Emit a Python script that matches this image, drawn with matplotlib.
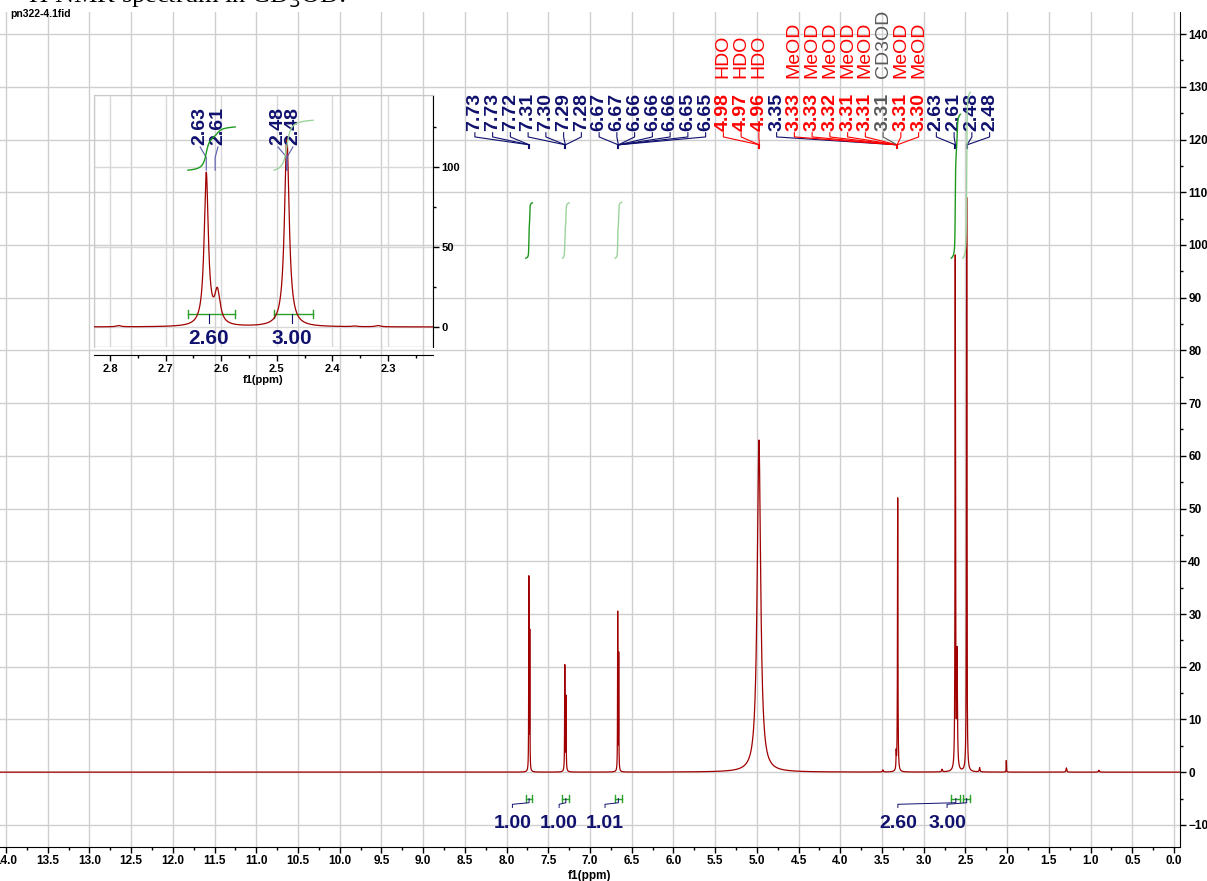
import numpy as np
import matplotlib
matplotlib.use("Agg")
import matplotlib.pyplot as plt
from matplotlib.ticker import MultipleLocator
from matplotlib.patches import Rectangle

W, H, DPI = 1207, 881, 100
SANS = "Liberation Sans"
NAVY = "#10106e"
RED = "#ff0000"
GREY = "#5a5a5a"
LINE = "#a00000"

# peaks (ppm, height, width)
peak_ppm    = [7.733, 7.722, 7.302, 7.288, 6.668, 6.656, 4.975, 3.490, 3.330,
               3.312, 2.622, 2.600, 2.485, 2.780, 2.330, 2.010, 1.290, 0.900]
peak_height = [36.5, 26.0, 20.0, 14.0, 30.0, 22.0, 63.0, 0.4, 3.0,
               52.0, 97.0, 22.0, 109.0, 0.5, 0.8, 2.2, 0.8, 0.35]
peak_width  = [0.004, 0.004, 0.005, 0.005, 0.004, 0.004, 0.050, 0.010, 0.005,
               0.006, 0.006, 0.010, 0.006, 0.010, 0.010, 0.004, 0.010, 0.012]

# peaks
inset_ppm    = [2.785, 2.627, 2.607, 2.482, 2.360, 2.318]
inset_height = [0.8, 95.0, 20.0, 119.0, 0.4, 0.8]
inset_width  = [0.010, 0.009, 0.012, 0.010, 0.010, 0.010]

# peak picking labels on top
label_text = ["7.73", "7.73", "7.72", "7.31", "7.30", "7.29", "7.28",
              "6.67", "6.67", "6.66", "6.66", "6.66", "6.65", "6.65",
              "4.98", "4.97", "4.96", "3.35", "3.33", "3.33", "3.32", "3.31",
              "3.31", "3.31", "3.31", "3.30", "2.63", "2.61", "2.48", "2.48"]
label_kind = ["c"] * 14 + ["s"] * 3 + ["c"] + ["s"] * 5 + ["r"] + ["s"] * 2 + ["c"] * 4
label_group = [0] * 3 + [1] * 4 + [2] * 7 + [3] * 3 + [4] * 9 + [5] * 2 + [6] * 2
group_kind = ["c", "c", "c", "s", "s", "c", "c"]
solvent_name = {14: "HDO", 15: "HDO", 16: "HDO", 18: "MeOD", 19: "MeOD", 20: "MeOD",
                21: "MeOD", 22: "MeOD", 23: "CD3OD", 24: "MeOD", 25: "MeOD"}

# integrals
int_lo = [7.69, 7.25, 6.62, 2.56, 2.44]
int_hi = [7.77, 7.33, 6.70, 2.67, 2.53]
int_value = ["1.00", "1.00", "1.01", "2.60", "3.00"]
int_label_ppm = [7.93, 7.37, 6.82, 3.31, 2.72]

inset_labels = ["2.63", "2.61", "2.48", "2.48"]
inset_label_ppm = [2.638, 2.606, 2.498, 2.471]
inset_junction = [2.627, 2.611, 2.482, 2.482]
inset_int_lo = [2.575, 2.435]
inset_int_hi = [2.660, 2.505]
inset_int_value = ["2.60", "3.00"]
inset_int_label_ppm = [2.622, 2.473]

KCOL = {"c": NAVY, "s": RED, "r": GREY}


def spectrum(x, ppm, hgt, wid):
    y = np.zeros_like(x)
    for p, h, w in zip(ppm, hgt, wid):
        y += h / (1 + ((x - p) / (w / 2)) ** 2)
    return y


def integral(x, y, lo, hi):
    m = (x >= lo) & (x <= hi)
    c = np.cumsum(y[m])
    return x[m], c / c[-1]


fig = plt.figure(figsize=(W / DPI, H / DPI), dpi=DPI)

# ---------------- main axes ----------------
ax = fig.add_axes([0, 1 - 847 / H, 1180 / W, (847 - 12) / H])
ax.set_facecolor("none")
x = np.linspace(14.1, -0.1, 60000)
y = spectrum(x, peak_ppm, peak_height, peak_width)
ax.plot(x, y, color=LINE, lw=0.9, zorder=3)
ax.set_xlim(14.072, -0.072)
ax.set_ylim(-14.2, 144.2)

ax.xaxis.set_major_locator(MultipleLocator(0.5))
ax.xaxis.set_minor_locator(MultipleLocator(0.25))
ax.yaxis.set_major_locator(MultipleLocator(10))
ax.yaxis.set_minor_locator(MultipleLocator(5))
ax.yaxis.tick_right()
ax.grid(True, which="major", color="#cfcfcf", lw=1.0)
for s in ("top", "left"):
    ax.spines[s].set_visible(False)
ax.tick_params(axis="both", which="major", length=4, width=1, labelsize=8.5, pad=2)
ax.tick_params(axis="both", which="minor", length=2.5, width=1)
for t in ax.get_xticklabels() + ax.get_yticklabels():
    t.set_fontweight("bold")
    t.set_family(SANS)
fig.text(590 / W, 1 - 876 / H, "f1(ppm)", ha="center", va="center",
         fontsize=8.5, weight="bold", family=SANS)

# peak labels with connectors
label_x = np.linspace(8.38, 2.21, len(label_text))
junction = {}
for g in set(label_group):
    vals = [float(t) for t, gg in zip(label_text, label_group) if gg == g]
    junction[g] = np.mean(vals)
for i, (txt, kind, g) in enumerate(zip(label_text, label_kind, label_group)):
    c = KCOL[kind]
    ax.text(label_x[i], 121.6, txt, rotation=90, ha="center", va="bottom",
            color=c, fontsize=14, weight="bold", family=SANS)
    ax.plot([label_x[i], label_x[i], junction[g]], [121.3, 120.5, 119.0],
            color=c, lw=0.8, zorder=4)
    if i in solvent_name:
        ax.text(label_x[i], 131.7, solvent_name[i], rotation=90, ha="center",
                va="bottom", color=KCOL[kind], fontsize=14, family=SANS)
for g, k in enumerate(group_kind):
    ax.plot([junction[g]] * 2, [119.0, 118.4], color=KCOL[k], lw=1.5, zorder=4)

# integrals
for k, (lo, hi, val, lx) in enumerate(zip(int_lo, int_hi, int_value, int_label_ppm)):
    xi, ci = integral(x, y, lo, hi)
    col = "#1f9a1f" if k in (0, 3) else "#9cd39c"
    ax.plot(xi, 97.5 + ci * float(val) * 10.5, color=col, lw=1.0, zorder=4)
    ax.plot([hi, lo], [-5, -5], color="#2aa02a", lw=1.0)
    ax.plot([hi, hi], [-5.6, -4.4], color="#2aa02a", lw=1.0)
    ax.plot([lo, lo], [-5.6, -4.4], color="#2aa02a", lw=1.0)
    mid = (lo + hi) / 2
    ax.plot([mid, mid, lx, lx], [-5.0, -5.8, -6.1, -6.7], color=NAVY, lw=0.7)
    ax.text(lx, -9.7, val, ha="center", va="center", color=NAVY,
            fontsize=14, weight="bold", family=SANS)

# header texts
fig.text(10 / W, 1 - 14 / H, "pn322-4.1fid", ha="left", va="center",
         fontsize=7.5, weight="bold", family=SANS)
fig.text(16 / W, 1 - 3 / H, "$^{1}$H NMR spectrum in CD$_3$OD:", ha="left",
         va="baseline", fontsize=19, family="Liberation Serif")

# ---------------- inset ----------------
ix0, ix1, iy0, iy1 = 94, 433, 95, 347
ins = fig.add_axes([ix0 / W, 1 - iy1 / H, (ix1 - ix0) / W, (iy1 - iy0) / H])
ins.set_facecolor("none")
xi_ = np.linspace(2.85, 2.2, 8000)
yi_ = spectrum(xi_, inset_ppm, inset_height, inset_width)
ins.plot(xi_, yi_, color=LINE, lw=0.9, zorder=3)
ins.set_xlim(2.829, 2.219)
ins.set_ylim(-12.5, 145)
ins.xaxis.set_major_locator(MultipleLocator(0.1))
ins.xaxis.set_minor_locator(MultipleLocator(0.05))
ins.yaxis.set_major_locator(MultipleLocator(50))
ins.yaxis.set_minor_locator(MultipleLocator(25))
ins.yaxis.tick_right()
ins.grid(True, which="major", color="#d8d8d8", lw=1.0)
for s in ("top", "left"):
    ins.spines[s].set_color("#c8c8c8")
ins.spines["bottom"].set_position(("outward", 6))
ins.add_patch(Rectangle((0, 0), 1, 1, transform=ins.transAxes, fill=False,
                        ec="#c8c8c8", lw=1.0))
ins.tick_params(axis="both", which="major", length=4, width=1, labelsize=8, pad=2)
ins.tick_params(axis="both", which="minor", length=2.5, width=1)
for t in ins.get_xticklabels() + ins.get_yticklabels():
    t.set_fontweight("bold")
    t.set_family(SANS)
ins.set_xlabel("f1(ppm)", fontsize=8, weight="bold", family=SANS, labelpad=1)

for txt, lx, jx in zip(inset_labels, inset_label_ppm, inset_junction):
    ins.text(lx, 113.5, txt, rotation=90, ha="center", va="bottom", color=NAVY,
             fontsize=14, weight="bold", family=SANS)
    ins.plot([lx, jx, jx], [112.5, 106.0, 98.0], color="#5a5ab0", lw=0.8, zorder=4)

for k, (lo, hi, val, lx) in enumerate(zip(inset_int_lo, inset_int_hi,
                                          inset_int_value, inset_int_label_ppm)):
    xs, cs = integral(xi_, yi_, lo, hi)
    col = "#1f9a1f" if k == 0 else "#9cd39c"
    ins.plot(xs, 98 + cs * float(val) * 10.4, color=col, lw=1.0, zorder=4)
    ins.plot([hi, lo], [8, 8], color="#2aa02a", lw=1.0)
    ins.plot([hi, hi], [5.5, 10.5], color="#2aa02a", lw=1.0)
    ins.plot([lo, lo], [5.5, 10.5], color="#2aa02a", lw=1.0)
    ins.plot([lx, lx], [8, 2.5], color=NAVY, lw=0.8)
    ins.text(lx, -7.0, val, ha="center", va="center", color=NAVY,
             fontsize=15, weight="bold", family=SANS)

fig.savefig("out.png", dpi=DPI)
